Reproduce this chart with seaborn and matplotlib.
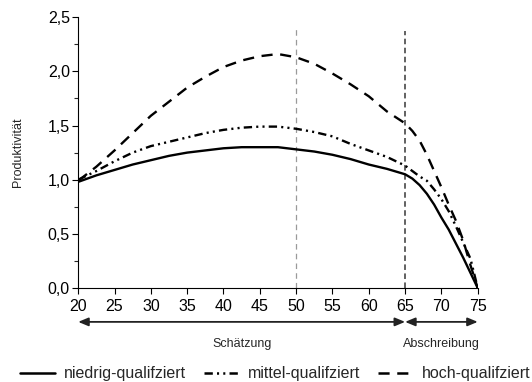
import numpy as np
import pandas as pd
import matplotlib
matplotlib.use('Agg')
import matplotlib.pyplot as plt
import seaborn as sns
from matplotlib.lines import Line2D
from matplotlib.ticker import MultipleLocator, FuncFormatter

# data
alter = [20, 22.5, 25, 27.5, 30, 32.5, 35, 37.5, 40, 42.5, 45, 47.5, 50, 52.5, 55, 57.5,
         60, 62.5, 65, 66, 67, 68, 69, 70, 71, 72, 73, 74, 75]
niedrig = [0.98, 1.04, 1.09, 1.14, 1.18, 1.22, 1.25, 1.27, 1.29, 1.30, 1.30, 1.30, 1.28, 1.26, 1.23, 1.19,
           1.14, 1.10, 1.05, 1.01, 0.95, 0.87, 0.77, 0.65, 0.54, 0.41, 0.28, 0.14, 0.0]
mittel = [1.00, 1.08, 1.17, 1.25, 1.31, 1.35, 1.39, 1.43, 1.46, 1.48, 1.49, 1.49, 1.47, 1.44, 1.40, 1.33,
          1.27, 1.21, 1.13, 1.08, 1.03, 0.99, 0.91, 0.82, 0.71, 0.57, 0.42, 0.27, 0.0]
hoch = [0.99, 1.12, 1.27, 1.43, 1.59, 1.72, 1.85, 1.95, 2.04, 2.10, 2.14, 2.16, 2.13, 2.07, 1.98, 1.88,
        1.77, 1.63, 1.52, 1.45, 1.36, 1.23, 1.08, 0.93, 0.77, 0.62, 0.44, 0.21, 0.0]
gruppen = ['niedrig-qualifziert', 'mittel-qualifziert', 'hoch-qualifziert']
phasen = ['Schätzung', 'Abschreibung']
grenzen = [20, 65, 75]

df = pd.DataFrame({'Alter': alter, gruppen[0]: niedrig, gruppen[1]: mittel, gruppen[2]: hoch})
df = df.melt(id_vars='Alter', var_name='Gruppe', value_name='Produktivität')

sns.set_style('ticks')
plt.rcParams['font.family'] = ['Liberation Sans', 'DejaVu Sans']
plt.rcParams['lines.scale_dashes'] = False

fig = plt.figure(figsize=(5.32, 3.82), dpi=100)
ax = fig.add_axes([0.147, 0.246, 0.751, 0.709])

stile = {gruppen[0]: '', gruppen[1]: (6, 3, 1.5, 3, 1.5, 3), gruppen[2]: (8, 5.5)}
sns.lineplot(data=df, x='Alter', y='Produktivität', hue='Gruppe', style='Gruppe',
             palette=['black'] * 3, dashes=stile, linewidth=1.7, legend=False, ax=ax, zorder=3)

ax.plot([50, 50], [0, 2.39], color='#9a9a9a', lw=0.9, dashes=(4, 3), zorder=1)
ax.plot([65, 65], [0, 2.37], color='#555555', lw=1.3, dashes=(4, 2.5), zorder=1)

ax.set_xlim(20, 75)
ax.set_ylim(0, 2.5)
ax.xaxis.set_major_locator(MultipleLocator(5))
ax.yaxis.set_major_locator(MultipleLocator(0.5))
ax.yaxis.set_minor_locator(MultipleLocator(0.25))
ax.yaxis.set_major_formatter(FuncFormatter(lambda v, p: f'{v:.1f}'.replace('.', ',')))
ax.tick_params(axis='both', which='major', length=4, width=0.8, labelsize=11.5, colors='black')
ax.tick_params(axis='x', which='major', pad=4)
ax.tick_params(axis='y', which='major', pad=2)
ax.tick_params(axis='y', which='minor', length=3, width=0.8)
for s in ['top', 'right']:
    ax.spines[s].set_visible(False)
for s in ['left', 'bottom']:
    ax.spines[s].set_linewidth(0.8)
    ax.spines[s].set_color('black')
ax.set_xlabel('')
ax.set_ylabel('Produktivität', fontsize=9)
ax.yaxis.set_label_coords(-0.136, 0.5)

# Pfeile unter der Achse
trans = ax.get_xaxis_transform()
for i in range(2):
    ax.annotate('', xy=(grenzen[i], -0.125), xytext=(grenzen[i + 1], -0.125), xycoords=trans,
                textcoords=trans, annotation_clip=False,
                arrowprops=dict(arrowstyle='<|-|>,head_length=0.6,head_width=0.25', color='#222222',
                                lw=1.3, shrinkA=0, shrinkB=0))
    ax.text((grenzen[i] + grenzen[i + 1]) / 2, -0.205, phasen[i], transform=trans,
            ha='center', va='center', fontsize=9)

handles = [Line2D([], [], color='black', lw=1.8),
           Line2D([], [], color='black', lw=1.8, dashes=(6, 3, 1.5, 3, 1.5, 3)),
           Line2D([], [], color='black', lw=1.8, dashes=(8, 5.5))]
fig.legend(handles, gruppen, loc='center', bbox_to_anchor=(0.517, 0.022), ncol=3, frameon=False,
           fontsize=11.5, handlelength=2.2, handletextpad=0.55, columnspacing=1.1, borderpad=0)

fig.savefig('out.png', dpi=100)
